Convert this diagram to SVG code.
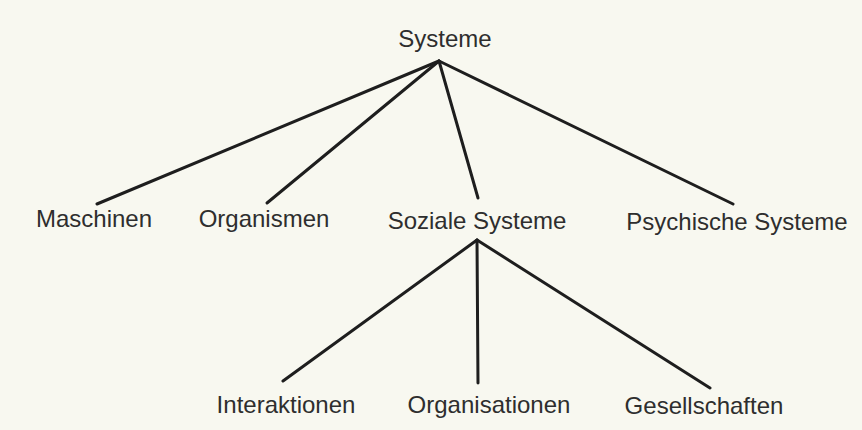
<svg xmlns="http://www.w3.org/2000/svg" width="862" height="430" viewBox="0 0 862 430">
<style>
.lbl{font-family:"Liberation Sans",Arial,sans-serif;font-size:24px;fill:#2e2e2e;text-anchor:middle}
.edge{stroke:#1e1e1e;stroke-width:3;stroke-linecap:round;fill:none}
</style>
<rect x="0" y="0" width="862" height="430" fill="#f8f8f0"/>
<g id="connectors">
<line class="edge" x1="439" y1="61" x2="97" y2="204"/>
<line class="edge" x1="439" y1="61" x2="267" y2="203"/>
<line class="edge" x1="439" y1="61" x2="478" y2="198"/>
<line class="edge" x1="439" y1="61" x2="733" y2="204"/>
<line class="edge" x1="477" y1="240" x2="283" y2="381"/>
<line class="edge" x1="477" y1="240" x2="478" y2="383"/>
<line class="edge" x1="477" y1="240" x2="710" y2="388"/>
</g>
<g id="n-systeme"><text class="lbl" x="445" y="47">Systeme</text></g>
<g id="n-maschinen"><text class="lbl" x="94" y="227">Maschinen</text></g>
<g id="n-organismen"><text class="lbl" x="264" y="227">Organismen</text></g>
<g id="n-soziale"><text class="lbl" x="477" y="229">Soziale Systeme</text></g>
<g id="n-psychische"><text class="lbl" x="737" y="230">Psychische Systeme</text></g>
<g id="n-interaktionen"><text class="lbl" x="286" y="413">Interaktionen</text></g>
<g id="n-organisationen"><text class="lbl" x="489" y="413">Organisationen</text></g>
<g id="n-gesellschaften"><text class="lbl" x="704" y="414">Gesellschaften</text></g>
</svg>
